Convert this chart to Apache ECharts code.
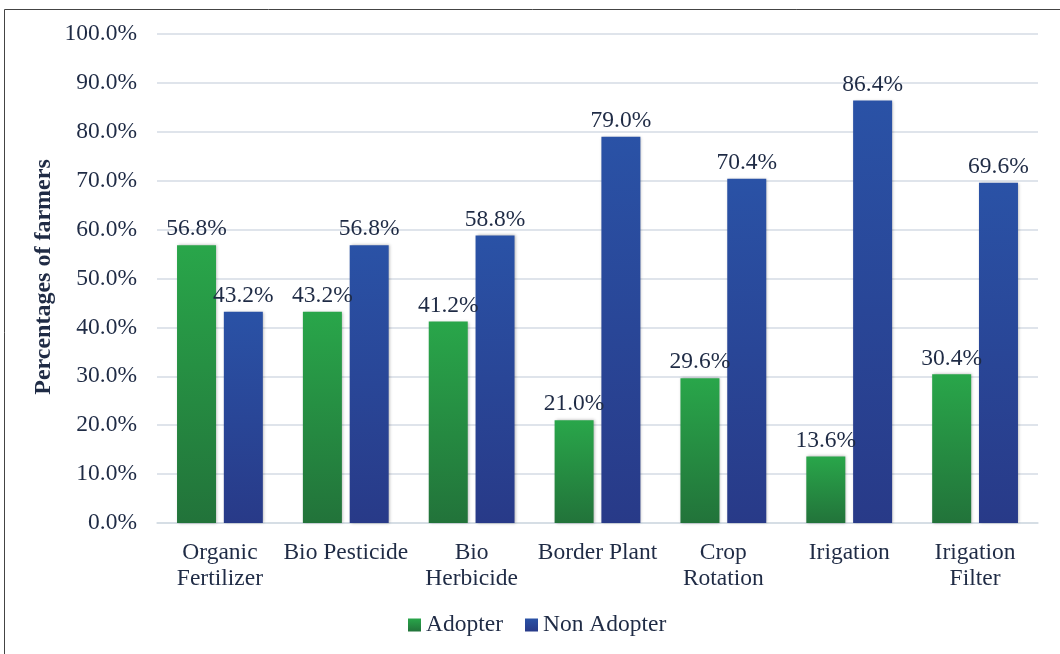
<!DOCTYPE html>
<html>
<head>
<meta charset="utf-8">
<script src="https://cdn.jsdelivr.net/npm/echarts@6/dist/echarts.min.js"></script>
<style>
html, body { margin: 0; padding: 0; background: #fff; }
#chart { width: 1060px; height: 654px; }
</style>
</head>
<body>
<div id="chart"></div>
<script>
const categories = ["Organic\nFertilizer", "Bio Pesticide", "Bio\nHerbicide", "Border Plant", "Crop\nRotation", "Irigation", "Irigation\nFilter"];
const adopter = [56.8, 43.2, 41.2, 21.0, 29.6, 13.6, 30.4];
const nonAdopter = [43.2, 56.8, 58.8, 79.0, 70.4, 86.4, 69.6];
const yTitle = "Percentages of farmers";

const textColor = "#1f2b45";
const font = "Liberation Serif";
const fs = 23.5;

function grad(top, bottom) {
    return new echarts.graphic.LinearGradient(0, 0, 0, 1, [
        { offset: 0, color: top },
        { offset: 1, color: bottom }
    ]);
}

const chart = echarts.init(document.getElementById("chart"));
chart.setOption({
    animation: false,
    graphic: [
        {
            type: "rect",
            shape: { x: 4.5, y: 9.5, width: 1200, height: 800 },
            style: { fill: "none", stroke: "#444", lineWidth: 1 },
            silent: true
        },
        {
            // y axis title, placed by hand so it sits close to the tick labels
            type: "text",
            x: 44,
            y: 277,
            rotation: Math.PI / 2,
            style: {
                text: yTitle,
                font: "bold 24px 'Liberation Serif'",
                fill: textColor,
                align: "center",
                verticalAlign: "middle"
            },
            silent: true
        }
    ],
    textStyle: { fontFamily: font, color: textColor },
    grid: { left: 157, right: 22, top: 34, bottom: 131 },
    legend: {
        bottom: 12,
        left: 403,
        itemWidth: 13,
        itemHeight: 13,
        itemGap: 22,
        icon: "rect",
        textStyle: { fontFamily: font, fontSize: fs, color: textColor },
        data: ["Adopter", "Non Adopter"]
    },
    xAxis: {
        type: "category",
        data: categories,
        axisTick: { show: false },
        axisLine: { lineStyle: { color: "#d4dbe4", width: 1.5 } },
        axisLabel: {
            fontFamily: font, fontSize: fs, color: textColor,
            lineHeight: 26, margin: 17, interval: 0
        }
    },
    yAxis: {
        type: "value",
        min: 0,
        max: 100,
        interval: 10,
        axisLabel: {
            fontFamily: font, fontSize: fs, color: textColor, margin: 20,
            formatter: v => v.toFixed(1) + "%"
        },
        splitLine: { lineStyle: { color: "#d4dbe4", width: 1.5 } }
    },
    series: [
        {
            name: "Adopter",
            type: "bar",
            data: adopter,
            barWidth: 39,
            barGap: "20%",
            itemStyle: {
                color: grad("#29a64a", "#22733a"),
                shadowBlur: 3, shadowColor: "rgba(0,0,0,0.3)", shadowOffsetX: 1
            },
            label: {
                show: true, position: "top", distance: 4,
                fontFamily: font, fontSize: fs, color: textColor,
                formatter: p => p.value.toFixed(1) + "%"
            }
        },
        {
            name: "Non Adopter",
            type: "bar",
            data: nonAdopter,
            barWidth: 39,
            itemStyle: {
                color: grad("#2a52a6", "#283a88"),
                shadowBlur: 3, shadowColor: "rgba(0,0,0,0.3)", shadowOffsetX: 1
            },
            label: {
                show: true, position: "top", distance: 4,
                fontFamily: font, fontSize: fs, color: textColor,
                formatter: p => p.value.toFixed(1) + "%"
            }
        }
    ]
});
</script>
</body>
</html>
